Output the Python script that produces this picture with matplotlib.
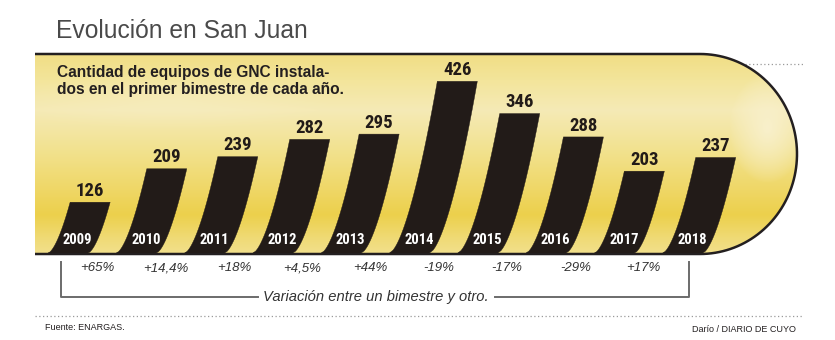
import numpy as np
import matplotlib
matplotlib.use("Agg")
import matplotlib.pyplot as plt
from matplotlib import font_manager
from matplotlib.path import Path
from matplotlib.patches import PathPatch, Polygon

# ---------------- data ----------------
years = ["2009", "2010", "2011", "2012", "2013", "2014", "2015", "2016", "2017", "2018"]
values = [126, 209, 239, 282, 295, 426, 346, 288, 203, 237]
variations = ["+65%", "+14,4%", "+18%", "+4,5%", "+44%", "-19%", "-17%", "-29%", "+17%"]
title = "Evolución en San Juan"
subtitle = "Cantidad de equipos de GNC instala-\ndos en el primer bimestre de cada año."
bracket_text = "Variación entre un bimestre y otro."
source = "Fuente: ENARGAS."
credit = "Darío / DIARIO DE CUYO"

# ---------------- fonts ----------------
avail = {f.name for f in font_manager.fontManager.ttflist}
def pick(*names):
    for n in names:
        if n in avail:
            return n
    return "DejaVu Sans"
SANS = pick("Liberation Sans", "Arial", "DejaVu Sans")
NARROW = pick("Liberation Sans Narrow", "Roboto Condensed", "Open Sans Condensed", "Liberation Sans")
narrow_ok = NARROW != SANS

W, H = 835, 340
fig = plt.figure(figsize=(W / 100, H / 100), dpi=100)
bg = fig.add_axes([0, 0, 1, 1])
bg.set_xlim(0, W)
bg.set_ylim(H, 0)
bg.axis("off")

# ---------------- pill background ----------------
L, R0, TOP, BOT = 35, 700, 54, 254
rx, ry = 97, (BOT - TOP) / 2
cy = (TOP + BOT) / 2
th = np.linspace(-np.pi / 2, np.pi / 2, 80)
arc = np.column_stack([R0 + rx * np.cos(th), cy + ry * np.sin(th)])
verts = np.vstack([[L, BOT], [L, TOP], [R0, TOP], arc, [R0, BOT], [L, BOT]])
pill_path = Path(verts)

# gradient image
ys = np.arange(TOP, BOT + 1)
xs = np.arange(L, R0 + rx + 2)
stops_y = [54, 80, 110, 150, 190, 215, 240, 254]
stops_c = np.array([
    (241, 222, 133), (243, 229, 155), (245, 234, 182), (242, 226, 143),
    (239, 215, 102), (236, 208, 76), (240, 219, 120), (242, 224, 140)]) / 255.0
col = np.stack([np.interp(ys, stops_y, stops_c[:, k]) for k in range(3)], axis=-1)
img = np.repeat(col[:, None, :], len(xs), axis=1)
XX, YY = np.meshgrid(xs, ys)
# right highlight
d = np.sqrt(((XX - 768) / 38.0) ** 2 + ((YY - 128) / 55.0) ** 2)
a = np.clip(1 - d, 0, 1) ** 0.8
hl = np.array([249, 241, 208]) / 255.0
img = img * (1 - a[..., None] * 0.9) + hl * a[..., None] * 0.9
# soft light band near subtitle
d2 = np.sqrt(((XX - 170) / 160.0) ** 2 + ((YY - 100) / 30.0) ** 2)
a2 = np.clip(1 - d2, 0, 1) * 0.35
img = img * (1 - a2[..., None]) + hl * a2[..., None]
im = bg.imshow(img, extent=(L, xs[-1], BOT, TOP), origin="upper", zorder=1,
               interpolation="bilinear")
patch = PathPatch(pill_path, transform=bg.transData, facecolor="none", edgecolor="none")
bg.add_patch(patch)
im.set_clip_path(patch)

# ---------------- bars (in data units) ----------------
ax = fig.add_axes([L / W, (H - 253) / H, (797 - L) / W, (253 - 54) / H])
px_per_unit_x = 68.3
x_lo = (L - 68) / px_per_unit_x
x_hi = (797 - 68) / px_per_unit_x
ax.set_xlim(x_lo, x_hi)
ymax = 493.8
ax.set_ylim(0, ymax)
ax.axis("off")
ax.patch.set_alpha(0)
px_per_unit_y = (253 - 54) / ymax

def offset(v):
    """horizontal lean (index units) of the curved bar edge at height v"""
    hpx = np.asarray(v) * px_per_unit_y
    return 1.85 * np.power(np.maximum(hpx, 0), 0.632) / px_per_unit_x

bw = 40 / px_per_unit_x
for i, (yr, v) in enumerate(zip(years, values)):
    yy = np.linspace(0, v, 60)
    x0 = i - bw / 2
    left = np.column_stack([x0 + offset(yy), yy])
    right = np.column_stack([x0 + bw + offset(yy), yy])[::-1]
    poly = Polygon(np.vstack([left, right]), closed=True, facecolor="#221b18",
                   edgecolor="#221b18", lw=0.3, zorder=3)
    ax.add_patch(poly)
    ax.text(i + offset(v), v + 6, str(v), ha="center", va="bottom",
            fontsize=13.5 if narrow_ok else 12, fontweight="bold", family=NARROW,
            color="#221b18", zorder=4)
    ax.text(i + offset(33), 33, yr, ha="center", va="center",
            fontsize=10.5 if narrow_ok else 9.5, fontweight="bold", family=NARROW,
            color="white", zorder=4)

for i, t in enumerate(variations):
    ax.text(i + 0.43, -38, t, ha="center", va="center", fontsize=9.5,
            style="italic", family=SANS, color="#333333", clip_on=False)

# ---------------- borders ----------------
border = np.vstack([[L, TOP], [R0, TOP], arc, [R0, BOT], [L, BOT]])
bg.plot(border[:, 0], border[:, 1], color="#231f20", lw=1.8, zorder=5,
        solid_capstyle="butt")

# dotted lines
bg.plot([745, 803], [64, 64], color="#9a9a9a", lw=0.9, ls=(0, (1, 2)), zorder=2)
bg.plot([35, 803], [316, 316], color="#9a9a9a", lw=0.9, ls=(0, (1, 2)), zorder=2)

# bracket
bcol = "#6b6b6b"
bg.plot([61, 61, 258], [262, 297, 297], color=bcol, lw=1.4, zorder=2)
bg.plot([495, 689, 689], [297, 297, 262], color=bcol, lw=1.4, zorder=2)
bg.text(376, 297, bracket_text, ha="center", va="center", fontsize=10.6,
        style="italic", family=SANS, color="#333333")

# ---------------- texts ----------------
bg.text(56, 31, title, ha="left", va="center", fontsize=17.7, family=SANS,
        color="#4a4a4a")
bg.text(57, 81, subtitle, ha="left", va="center", fontsize=11.2, fontweight="bold",
        family=SANS, color="#231f20", linespacing=1.12, zorder=6)
bg.text(45, 327, source, ha="left", va="center", fontsize=6.5, family=SANS,
        color="#231f20")
bg.text(796, 329, credit, ha="right", va="center", fontsize=6.5, family=SANS,
        color="#231f20")

fig.savefig("out.png", dpi=100)
